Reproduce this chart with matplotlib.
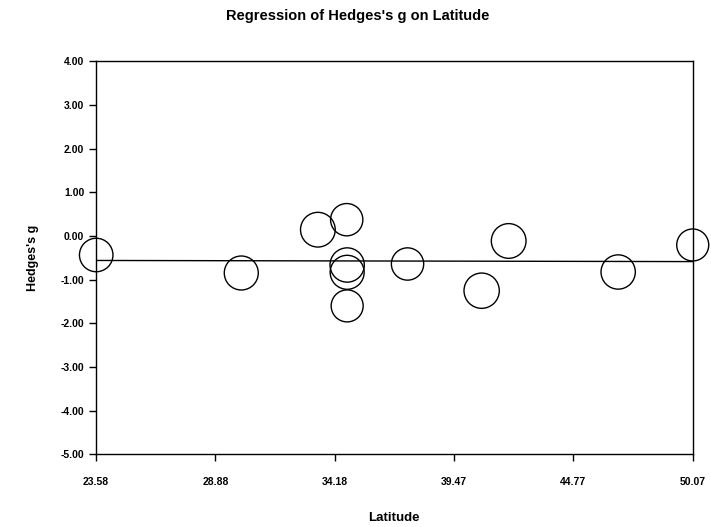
import matplotlib
matplotlib.use("Agg")
import matplotlib.pyplot as plt
import numpy as np

plt.rcParams['font.family'] = ['Liberation Sans', 'DejaVu Sans']

# Study-level data
latitude = [23.59, 30.03, 33.43, 34.71, 34.73, 34.73, 34.73, 37.41, 40.70, 41.90, 46.76, 50.07]
hedges_g = [-0.435, -0.847, 0.144, 0.373, -0.664, -0.831, -1.60, -0.641, -1.252, -0.114, -0.824, -0.206]
weight = [33.5, 34.0, 34.7, 32.3, 34.3, 34.0, 32.0, 32.3, 35.3, 34.7, 34.3, 32.0]

# Fitted meta-regression line
reg_x = [23.58, 50.07]
reg_y = [-0.560, -0.586]

x_ticks = [23.58, 28.88, 34.18, 39.47, 44.77, 50.07]
y_ticks = [-5, -4, -3, -2, -1, 0, 1, 2, 3, 4]

fig = plt.figure(figsize=(7.11, 5.27), dpi=100)
ax = fig.add_axes([0.135, 0.1376, 0.8393, 0.7463])

# marker diameter in points from weight (pixels at 100 dpi)
sizes = [(w * 72 / 100) ** 2 for w in weight]
ax.scatter(latitude, hedges_g, s=sizes, facecolors='none', edgecolors='black',
           linewidths=1.0, zorder=3, clip_on=False)
ax.plot(reg_x, reg_y, color='black', linewidth=1.0, zorder=2)

ax.set_xlim(23.58, 50.07)
ax.set_ylim(-5, 4)
ax.set_xticks(x_ticks)
ax.set_xticklabels([f"{v:.2f}" for v in x_ticks])
ax.set_yticks(y_ticks)
ax.set_yticklabels([f"{v:.2f}" for v in y_ticks])

ax.tick_params(axis='both', direction='out', length=5, width=1, labelsize=7.5)
ax.tick_params(axis='x', pad=11)
ax.tick_params(axis='y', pad=3.5)
for lab in ax.get_xticklabels() + ax.get_yticklabels():
    lab.set_fontweight('bold')

for sp in ax.spines.values():
    sp.set_linewidth(1.0)
    sp.set_color('black')

ax.set_xlabel("Latitude", fontsize=9.5, fontweight='bold', labelpad=18)
ax.set_ylabel("Hedges's g", fontsize=9, fontweight='bold', labelpad=15.5)
fig.text(0.5025, 0.970, "Regression of Hedges's g on Latitude", ha='center', va='center',
         fontsize=10.5, fontweight='bold')

fig.savefig("out.png", dpi=100)
